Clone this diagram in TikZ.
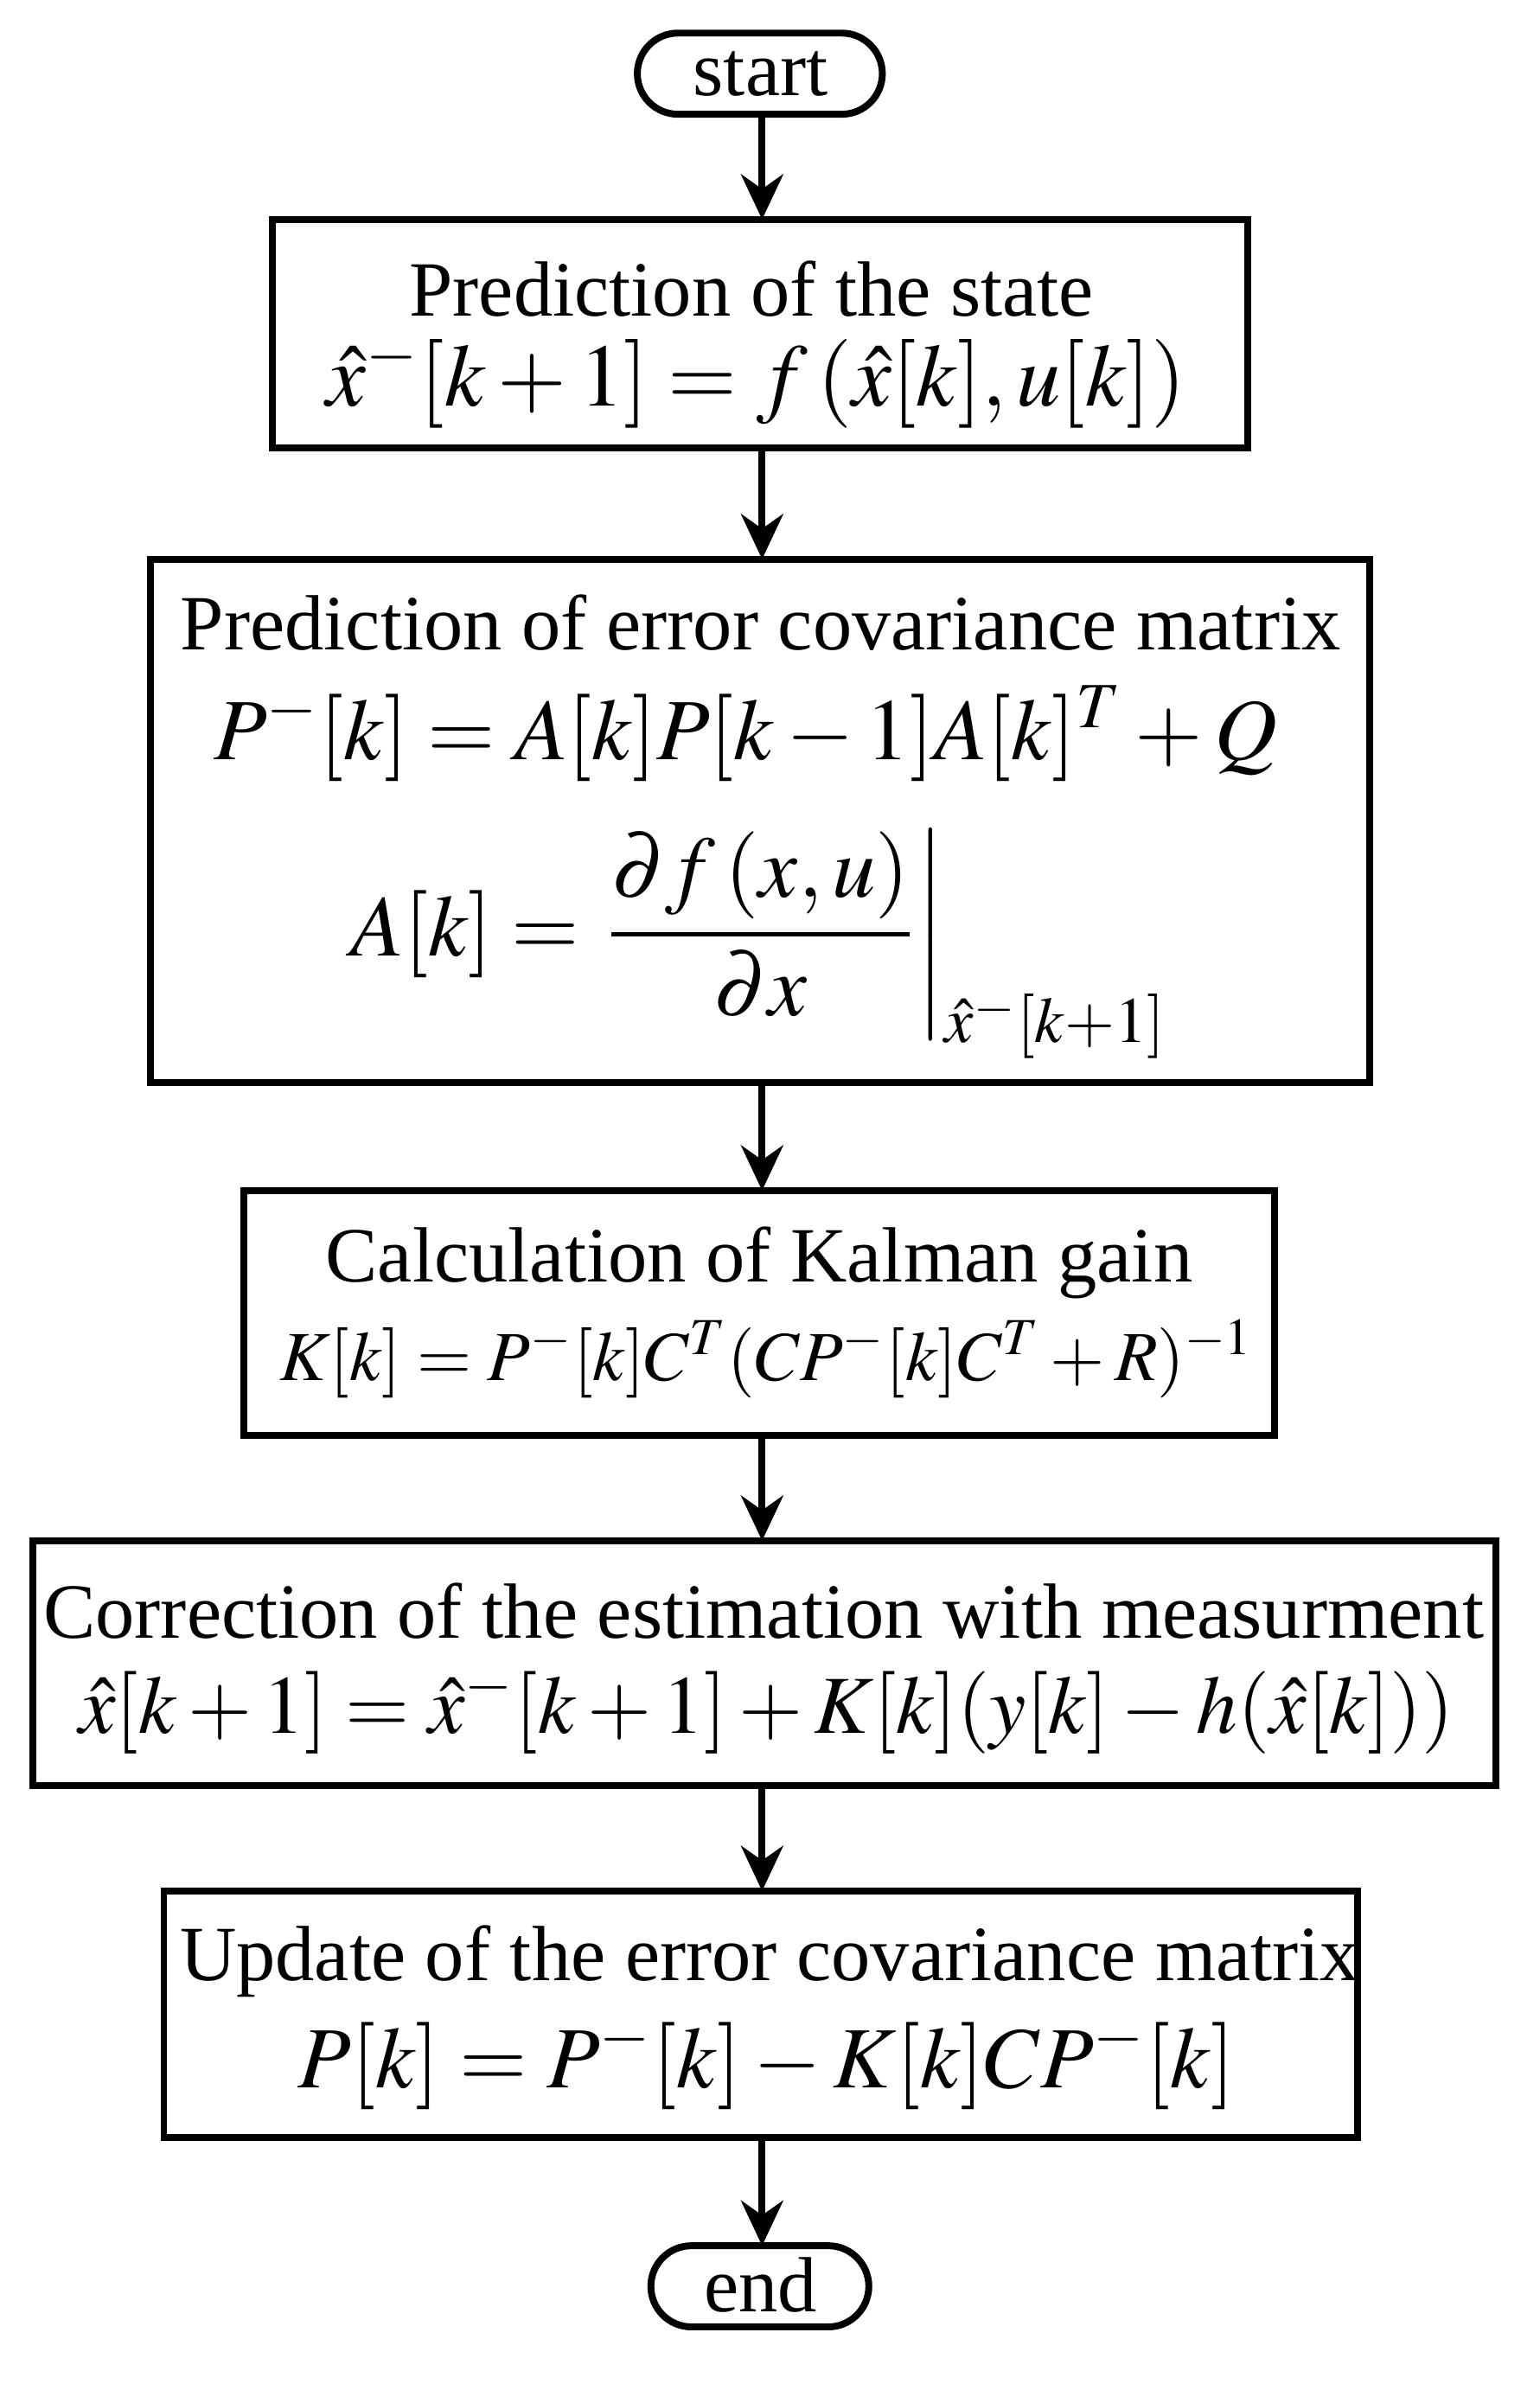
\documentclass[tikz,border=0pt]{standalone}
\usepackage{amsmath}
\usepackage{mathptmx}
\usepackage[no-math]{fontspec}
\setmainfont{Liberation Serif}
\usetikzlibrary{arrows.meta}
\tikzset{
 box/.style={draw,line width=1.3pt},
 term/.style={draw,line width=1.3pt,rounded corners=0.27cm},
 arr/.style={line width=1.3pt,-{Stealth[length=0.3cm,width=0.28cm]}},
 txt/.style={inner sep=0pt,font=\fontsize{14.8}{17}\selectfont},
 mth/.style={inner sep=0pt,font=\fontsize{#1}{18}\selectfont},
}
\begin{document}
\begin{tikzpicture}[x=0.01cm,y=-0.01cm]
\useasboundingbox (0,0) rectangle (1024,1590);
\draw[term] (424,22) rectangle (587,76);
\node[txt] (ts) at (506,49) {start};
\draw[box] (181,146) rectangle (830,298);
\node[txt] (t1) at (500,192) {Prediction of the state};
\node[mth=16.8] (m1) at (503,254) {$\hat{x}^{-}[k+1]=f\,(\hat{x}[k],u[k])$};
\draw[box] (100,372) rectangle (911,720);
\node[txt] (t2) at (506,414) {Prediction of error covariance matrix};
\node[mth=16.5] (m2) at (496,488) {$P^{-}[k]=A[k]P[k-1]A[k]^{T}+Q$};
\node[mth=16.5] (m3) at (505,628) {$A[k]=\left.\dfrac{\partial f\,(x,u)}{\partial x}\right|_{\hat{x}^{-}[k+1]}$};
\draw[box] (162,792) rectangle (848,955);
\node[txt] (t3) at (505,840) {Calculation of Kalman gain};
\node[mth=13.3] (m4) at (510,904) {$K[k]=P^{-}[k]C^{T}(CP^{-}[k]C^{T}+R)^{-1}$};
\draw[box] (22,1025) rectangle (995,1188);
\node[txt] (t4) at (508,1072) {Correction of the estimation with measurment};
\node[mth=15.6] (m5) at (510,1138) {$\hat{x}[k+1]=\hat{x}^{-}[k+1]+K[k](y[k]-h(\hat{x}[k]))$};
\draw[box] (109,1258) rectangle (903,1422);
\node[txt] (t5) at (512,1305) {Update of the error covariance matrix};
\node[mth=16.5] (m6) at (510,1373) {$P[k]=P^{-}[k]-K[k]CP^{-}[k]$};
\draw[term] (433,1494) rectangle (578,1548);
\node[txt] (te) at (506,1520) {end};
\coordinate (a0) at (507,76); \coordinate (b0) at (507,146);
\coordinate (a1) at (507,298); \coordinate (b1) at (507,372);
\coordinate (a2) at (507,720); \coordinate (b2) at (507,792);
\coordinate (a3) at (507,955); \coordinate (b3) at (507,1025);
\coordinate (a4) at (507,1188); \coordinate (b4) at (507,1258);
\coordinate (a5) at (507,1422); \coordinate (b5) at (507,1494);
\foreach \i in {0,...,5} \draw[arr] (a\i) -- (b\i);
\end{tikzpicture}
\end{document}
